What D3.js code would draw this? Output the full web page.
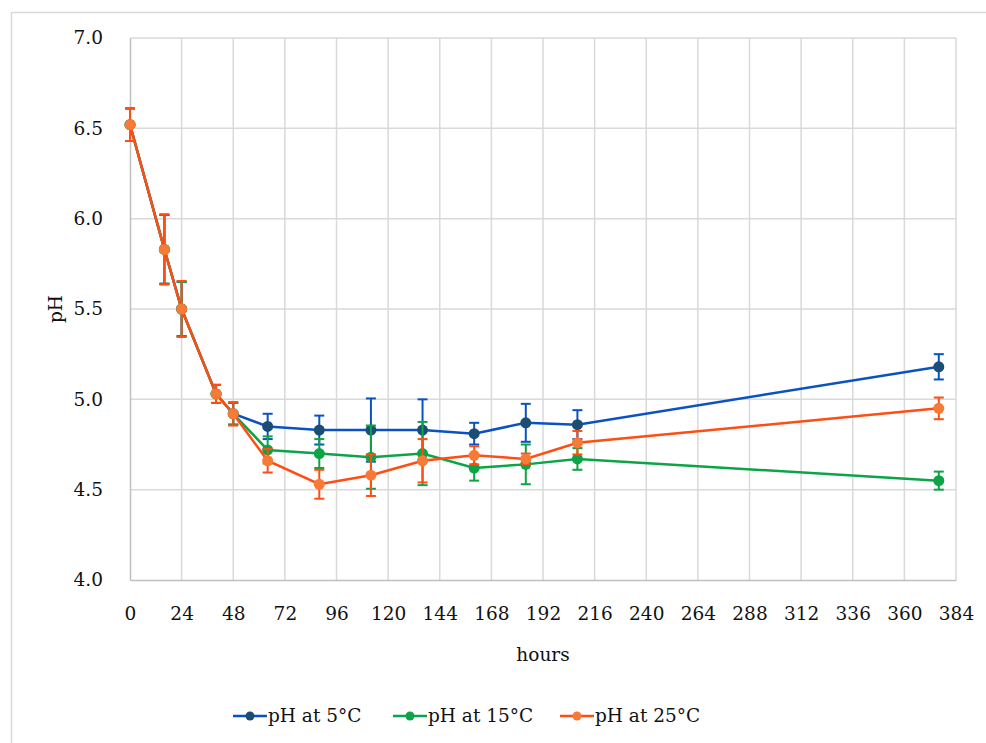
<!DOCTYPE html>
<html>
<head>
<meta charset="utf-8">
<script src="https://cdn.jsdelivr.net/npm/d3@7"></script>
<style>
  body { margin: 0; background: #fff; }
  svg { display: block; }
</style>
</head>
<body>
<script>
// sampling times (hours)
const hours = [0, 16, 24, 40, 48, 64, 88, 112, 136, 160, 184, 208, 376];

// mean pH per temperature
const ph5 = [6.52, 5.83, 5.50, 5.03, 4.92, 4.85, 4.83, 4.83, 4.83, 4.81, 4.87, 4.86, 5.18];
const ph15 = [6.52, 5.83, 5.50, 5.03, 4.92, 4.72, 4.70, 4.68, 4.70, 4.62, 4.64, 4.67, 4.55];
const ph25 = [6.52, 5.83, 5.50, 5.03, 4.92, 4.66, 4.53, 4.58, 4.66, 4.69, 4.67, 4.76, 4.95];

// standard deviations
const sd5 = [0.09, 0.19, 0.15, 0.05, 0.06, 0.07, 0.08, 0.175, 0.17, 0.06, 0.105, 0.08, 0.07];
const sd15 = [0.09, 0.19, 0.15, 0.05, 0.06, 0.075, 0.08, 0.175, 0.175, 0.07, 0.11, 0.06, 0.05];
const sd25 = [0.09, 0.195, 0.155, 0.05, 0.065, 0.065, 0.08, 0.115, 0.12, 0.05, 0.03, 0.065, 0.06];

const xTicks = d3.range(0, 385, 24);
const yTicks = [4.0, 4.5, 5.0, 5.5, 6.0, 6.5, 7.0];

const seriesNames = ['pH at 5°C', 'pH at 15°C', 'pH at 25°C'];
const lineColors = ['#0a52c2', '#0ba446', '#ff4d14'];
const markColors = ['#1c4e75', '#0ba446', '#f77a36'];

const W = 986, H = 743;
const margin = { top: 38, right: 30, bottom: 163, left: 130 };
const width = 956 - margin.left;
const height = 580 - margin.top;
const font = '"DejaVu Serif", "Liberation Serif", serif';
const fontSize = 18.5;

const svg = d3.select('body').append('svg')
    .attr('width', W)
    .attr('height', H)
    .style('font-family', font);

// outer frame
svg.append('rect')
    .attr('x', 11.5).attr('y', 12.5)
    .attr('width', W + 10).attr('height', H + 10)
    .attr('fill', 'none')
    .attr('stroke', '#d9d9d9')
    .attr('stroke-width', 1.5);

const g = svg.append('g')
    .attr('transform', `translate(${margin.left},${margin.top})`);

const x = d3.scaleLinear().domain([0, 384]).range([0, width]);
const y = d3.scaleLinear().domain([4, 7]).range([height, 0]);

// grid
g.append('g')
    .selectAll('line')
    .data(xTicks.slice(1))
    .join('line')
    .attr('x1', d => x(d)).attr('x2', d => x(d))
    .attr('y1', 0).attr('y2', height)
    .attr('stroke', '#d9d9d9')
    .attr('stroke-width', 1.5);

g.append('g')
    .selectAll('line')
    .data(yTicks.slice(1))
    .join('line')
    .attr('x1', 0).attr('x2', width)
    .attr('y1', d => y(d)).attr('y2', d => y(d))
    .attr('stroke', '#d9d9d9')
    .attr('stroke-width', 1.5);

// axes
const xAxis = g.append('g')
    .attr('transform', `translate(0,${height})`)
    .call(d3.axisBottom(x).tickValues(xTicks).tickSize(0).tickPadding(27).tickFormat(d3.format('d')));
xAxis.select('.domain').attr('stroke', '#bfbfbf').attr('stroke-width', 1.5);

const yAxis = g.append('g')
    .call(d3.axisLeft(y).tickValues(yTicks).tickSize(0).tickPadding(27).tickFormat(d3.format('.1f')));
yAxis.select('.domain').attr('stroke', '#bfbfbf').attr('stroke-width', 1.5);

svg.selectAll('.tick text')
    .attr('font-family', font)
    .attr('font-size', fontSize)
    .attr('fill', '#111');

// axis titles
svg.append('text')
    .attr('x', margin.left + width / 2)
    .attr('y', 661)
    .attr('text-anchor', 'middle')
    .attr('font-size', fontSize)
    .attr('fill', '#111')
    .text('hours');

svg.append('text')
    .attr('transform', `translate(62,${margin.top + height / 2}) rotate(-90)`)
    .attr('text-anchor', 'middle')
    .attr('font-size', fontSize)
    .attr('fill', '#111')
    .text('pH');

// series (draw blue, green, then orange on top)
const allMeans = [ph5, ph15, ph25];
const allSd = [sd5, sd15, sd25];

allMeans.forEach((means, s) => {
    const pts = hours.map((h, i) => ({ h, v: means[i], sd: allSd[s][i] }));
    const sg = g.append('g');

    sg.append('path')
        .datum(pts)
        .attr('fill', 'none')
        .attr('stroke', lineColors[s])
        .attr('stroke-width', 2.5)
        .attr('d', d3.line().x(d => x(d.h)).y(d => y(d.v)));

    const eb = sg.selectAll('g.err')
        .data(pts)
        .join('g')
        .attr('class', 'err')
        .attr('stroke', lineColors[s])
        .attr('stroke-width', 2);
    eb.append('line')
        .attr('x1', d => x(d.h)).attr('x2', d => x(d.h))
        .attr('y1', d => y(d.v - d.sd)).attr('y2', d => y(d.v + d.sd));
    eb.append('line')
        .attr('x1', d => x(d.h) - 5).attr('x2', d => x(d.h) + 5)
        .attr('y1', d => y(d.v + d.sd)).attr('y2', d => y(d.v + d.sd));
    eb.append('line')
        .attr('x1', d => x(d.h) - 5).attr('x2', d => x(d.h) + 5)
        .attr('y1', d => y(d.v - d.sd)).attr('y2', d => y(d.v - d.sd));

    sg.selectAll('circle')
        .data(pts)
        .join('circle')
        .attr('cx', d => x(d.h))
        .attr('cy', d => y(d.v))
        .attr('r', 5.5)
        .attr('fill', markColors[s]);
});

// legend
const legendX = [233, 393, 560];
const legend = svg.append('g').attr('transform', 'translate(0,716)');
seriesNames.forEach((name, i) => {
    const lg = legend.append('g').attr('transform', `translate(${legendX[i]},0)`);
    lg.append('line')
        .attr('x1', 0).attr('x2', 34)
        .attr('y1', 0).attr('y2', 0)
        .attr('stroke', lineColors[i])
        .attr('stroke-width', 2.5);
    lg.append('circle')
        .attr('cx', 17).attr('cy', 0).attr('r', 4.5)
        .attr('fill', markColors[i]);
    lg.append('text')
        .attr('x', 35).attr('y', 0)
        .attr('dy', '0.35em')
        .attr('font-size', fontSize)
        .attr('fill', '#111')
        .text(name);
});
</script>
</body>
</html>
